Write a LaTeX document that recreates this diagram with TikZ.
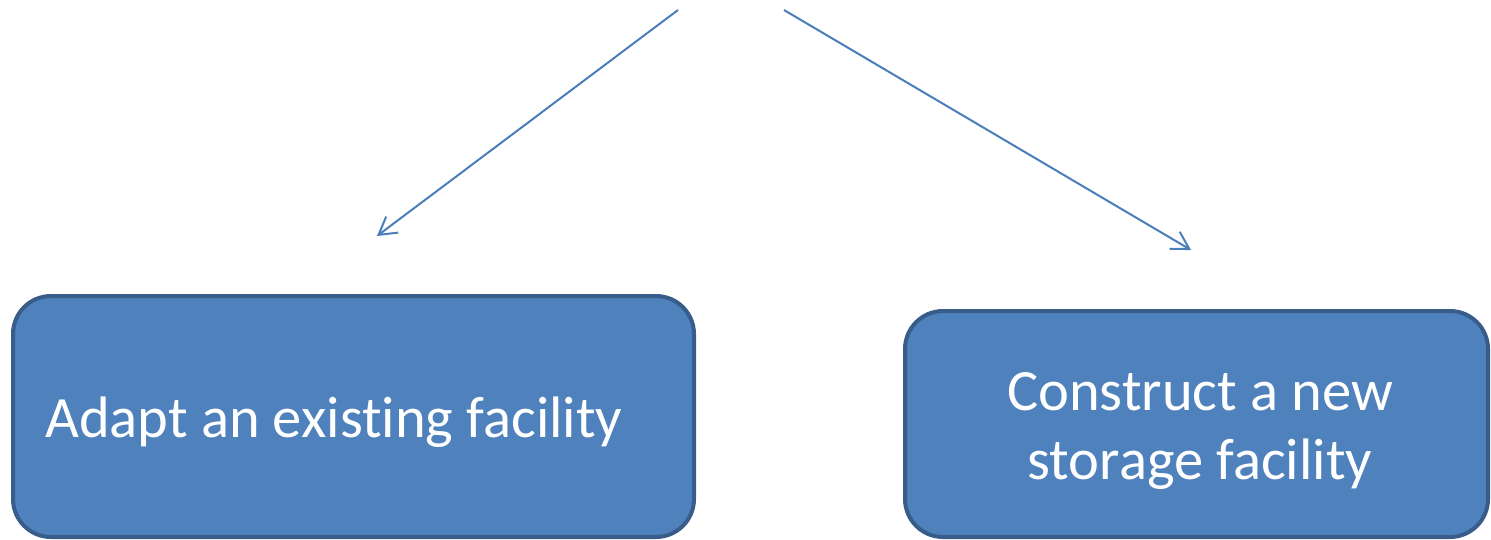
\documentclass[tikz,border=0pt]{standalone}
\usepackage{fontspec}
\setmainfont{Carlito}[Ligatures=NoCommon]
\usetikzlibrary{arrows.meta}
\definecolor{boxfill}{HTML}{4F81BD}
\definecolor{boxline}{HTML}{385D8A}
\definecolor{arrowblue}{HTML}{4A7EBB}
\tikzset{
  choice/.style={draw=boxline, fill=boxfill, line width=4pt, rounded corners=38pt,
    inner sep=0pt},
  caption/.style={text=white, font=\fontsize{58.5}{69}\selectfont, inner sep=0pt,
    align=center},
  branch/.style={draw=arrowblue, line width=2pt,
    -{Straight Barb[length=17pt, width=20pt, line width=2pt]}}
}
\begin{document}
\begin{tikzpicture}[x=1pt, y=-1pt]
  \useasboundingbox (0,0) rectangle (1491,539);
  % the two options
  \node[choice, minimum width=681pt, minimum height=241pt] (adapt) at (353.5,416.5) {};
  \node[caption, anchor=base west] (adapttext) at (45,437) {Adapt an existing facility};
  \node[choice, minimum width=583pt, minimum height=226pt] (construct) at (1196.5,424) {};
  \node[caption, anchor=base] (constructtext) at (1200,479)
        {Construct a new\\storage facility};
  % arrows branching down towards the options
  \coordinate (leftstart) at (678,10);
  \coordinate (lefttip) at (377,236);
  \coordinate (rightstart) at (784,10);
  \coordinate (righttip) at (1191,250);
  \draw[branch] (leftstart) -- (lefttip);
  \draw[branch] (rightstart) -- (righttip);
\end{tikzpicture}
\end{document}
